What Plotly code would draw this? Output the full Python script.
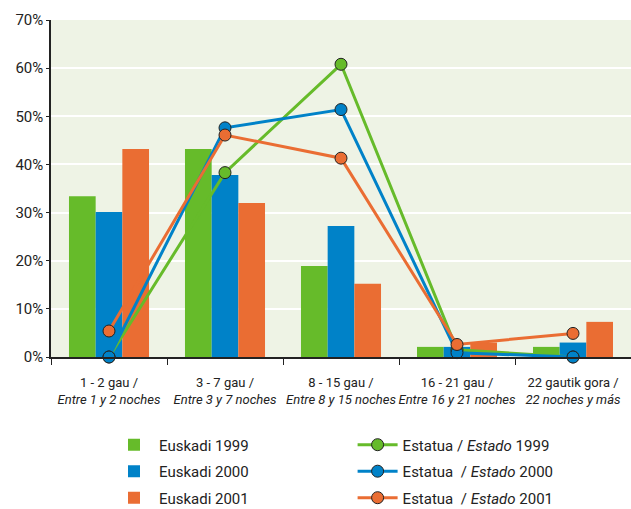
import plotly.graph_objects as go

categories = [
    "1 - 2 gau /<br><i>Entre 1 y 2 noches</i>",
    "3 - 7 gau /<br><i>Entre 3 y 7 noches</i>",
    "8 - 15 gau /<br><i>Entre 8 y 15 noches</i>",
    "16 - 21 gau /<br><i>Entre 16 y 21 noches</i>",
    "22 gautik gora /<br><i>22 noches y más</i>",
]
euskadi_1999 = [33.4, 43.2, 18.9, 2.1, 2.1]
euskadi_2000 = [30.1, 37.8, 27.2, 2.1, 3.0]
euskadi_2001 = [43.2, 32.0, 15.2, 3.0, 7.3]
estado_1999 = [0.0, 38.3, 60.8, 1.5, 0.0]
estado_2000 = [0.0, 47.6, 51.4, 0.9, 0.0]
estado_2001 = [5.4, 46.1, 41.3, 2.6, 4.9]

GREEN = "#66BB2A"
BLUE = "#0082C8"
ORANGE = "#EA6D33"
FONT = "Roboto, Liberation Sans, sans-serif"

fig = go.Figure()
for name, vals, col in [("Euskadi 1999", euskadi_1999, GREEN),
                        ("Euskadi 2000", euskadi_2000, BLUE),
                        ("Euskadi 2001", euskadi_2001, ORANGE)]:
    fig.add_trace(go.Bar(x=categories, y=vals, name=name, marker_color=col,
                         marker_line_width=0, legend="legend", legendgroup=name))

for name, vals, col in [("Estatua / <i>Estado</i> 1999", estado_1999, GREEN),
                        ("Estatua  / <i>Estado</i> 2000", estado_2000, BLUE),
                        ("Estatua  / <i>Estado</i> 2001", estado_2001, ORANGE)]:
    fig.add_trace(go.Scatter(x=categories, y=vals, name=name, mode="lines+markers",
                             line=dict(color=col, width=3),
                             marker=dict(color=col, size=12, line=dict(color="#222", width=1)),
                             cliponaxis=False, legend="legend2", legendgroup=name))

fig.update_layout(
    width=631, height=509,
    margin=dict(l=51, r=0, t=20, b=152, autoexpand=False),
    paper_bgcolor="white", plot_bgcolor="#EEF3E5",
    font=dict(family=FONT, size=15, color="#222"),
    barmode="group", bargap=0.31, bargroupgap=0,
    showlegend=True,
    legend=dict(x=0.1, y=-0.212, xanchor="left", yanchor="top", orientation="v",
                font=dict(size=15, family=FONT), tracegroupgap=4, itemwidth=40,
                bgcolor="rgba(0,0,0,0)"),
    legend2=dict(x=0.52, y=-0.212, xanchor="left", yanchor="top", orientation="v",
                 font=dict(size=15, family=FONT), tracegroupgap=4, itemwidth=40,
                 bgcolor="rgba(0,0,0,0)"),
)
fig.update_xaxes(showline=True, linecolor="#222", linewidth=1.5, ticks="outside",
                 tickson="boundaries", ticklen=6, tickcolor="#222", tickangle=0,
                 tickfont=dict(size=13), showgrid=False, automargin=False,
                 ticklabelstandoff=13)
fig.update_yaxes(range=[0, 70], dtick=10, ticksuffix="%", showline=True,
                 linecolor="#222", linewidth=1.5, ticks="outside", ticklen=3,
                 tickcolor="#222", gridcolor="white", gridwidth=2, automargin=False,
                 tickfont=dict(size=15), zeroline=False)

fig.write_html("out.html", config={"displayModeBar": False},
               post_script="document.body.style.margin='0';")
